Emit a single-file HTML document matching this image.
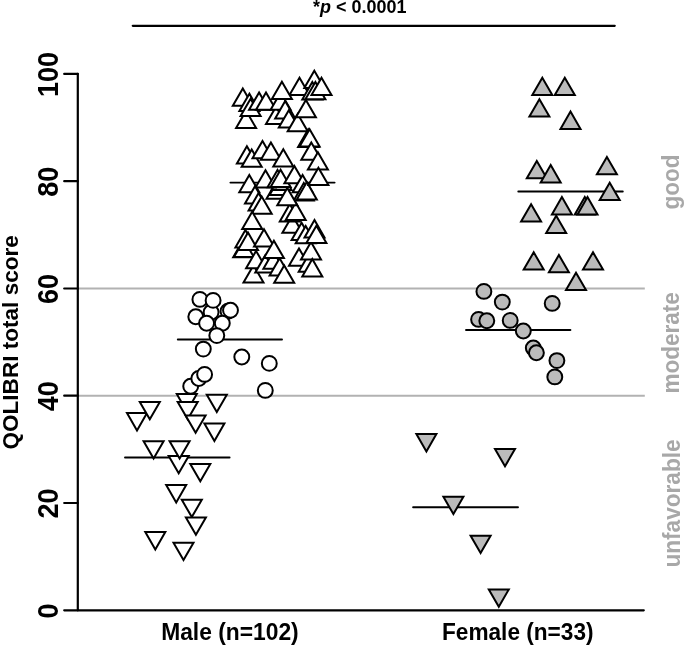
<!DOCTYPE html>
<html><head><meta charset="utf-8"><title>QOLIBRI total score</title>
<style>
html,body{margin:0;padding:0;background:#fff;}
body{width:685px;height:646px;overflow:hidden;font-family:"Liberation Sans",sans-serif;}
svg{display:block;will-change:transform;}
text{font-family:"Liberation Sans",sans-serif;font-weight:bold;}
</style></head><body>
<svg width="685" height="646" viewBox="0 0 685 646">
<rect width="685" height="646" fill="#fff"/>
<line x1="78" x2="644.8" y1="288.6" y2="288.6" stroke="#b2b2b2" stroke-width="2"/>
<line x1="78" x2="644.8" y1="395.8" y2="395.8" stroke="#b2b2b2" stroke-width="2"/>
<line x1="132.8" x2="614.7" y1="25.85" y2="25.85" stroke="#000" stroke-width="2.3" stroke-linecap="round"/>
<text x="313.1" y="13.4" font-size="17.8" textLength="93.4" lengthAdjust="spacingAndGlyphs">*<tspan font-style="italic">p</tspan> &lt; 0.0001</text>
<path d="M77.8 73.9V610.3H643.8" fill="none" stroke="#000" stroke-width="2.2" stroke-linecap="round" stroke-linejoin="round"/>
<line x1="64.2" x2="77.8" y1="610.3" y2="610.3" stroke="#000" stroke-width="2.2" stroke-linecap="round"/>
<text transform="translate(57.8 610.9) rotate(-90) scale(1 1.09)" font-size="27" text-anchor="middle">0</text>
<line x1="64.2" x2="77.8" y1="503.0" y2="503.0" stroke="#000" stroke-width="2.2" stroke-linecap="round"/>
<text transform="translate(57.8 503.6) rotate(-90) scale(1 1.09)" font-size="27" text-anchor="middle">20</text>
<line x1="64.2" x2="77.8" y1="395.7" y2="395.7" stroke="#000" stroke-width="2.2" stroke-linecap="round"/>
<text transform="translate(57.8 396.3) rotate(-90) scale(1 1.09)" font-size="27" text-anchor="middle">40</text>
<line x1="64.2" x2="77.8" y1="288.5" y2="288.5" stroke="#000" stroke-width="2.2" stroke-linecap="round"/>
<text transform="translate(57.8 289.1) rotate(-90) scale(1 1.09)" font-size="27" text-anchor="middle">60</text>
<line x1="64.2" x2="77.8" y1="181.2" y2="181.2" stroke="#000" stroke-width="2.2" stroke-linecap="round"/>
<text transform="translate(57.8 181.8) rotate(-90) scale(1 1.09)" font-size="27" text-anchor="middle">80</text>
<line x1="64.2" x2="77.8" y1="73.9" y2="73.9" stroke="#000" stroke-width="2.2" stroke-linecap="round"/>
<text transform="translate(57.8 74.5) rotate(-90) scale(1 1.09)" font-size="27" text-anchor="middle">100</text>
<text transform="translate(18.1 449.6) rotate(-90)" font-size="22.2" textLength="214.5" lengthAdjust="spacingAndGlyphs">QOLIBRI total score</text>
<text x="161.2" y="639.7" font-size="23.6" textLength="137.5" lengthAdjust="spacingAndGlyphs">Male (n=102)</text>
<text x="442" y="639.7" font-size="23.6" textLength="151.5" lengthAdjust="spacingAndGlyphs">Female (n=33)</text>
<text transform="translate(679.0 209.5) rotate(-90)" font-size="23" textLength="55" lengthAdjust="spacingAndGlyphs" fill="#a8a8a8">good</text>
<text transform="translate(679.4 393.6) rotate(-90)" font-size="23" textLength="101.5" lengthAdjust="spacingAndGlyphs" fill="#a8a8a8">moderate</text>
<text transform="translate(680.1 567.6) rotate(-90)" font-size="23" textLength="128.2" lengthAdjust="spacingAndGlyphs" fill="#a8a8a8">unfavorable</text>
<line x1="230.4" x2="334.6" y1="182.6" y2="182.6" stroke="#000" stroke-width="1.9" stroke-linecap="round"/>
<line x1="177.8" x2="282" y1="339.5" y2="339.5" stroke="#000" stroke-width="1.9" stroke-linecap="round"/>
<line x1="125" x2="229.6" y1="457.5" y2="457.5" stroke="#000" stroke-width="1.9" stroke-linecap="round"/>
<line x1="518.3" x2="622.8" y1="191.5" y2="191.5" stroke="#000" stroke-width="1.9" stroke-linecap="round"/>
<line x1="466" x2="570.4" y1="330.0" y2="330.0" stroke="#000" stroke-width="1.9" stroke-linecap="round"/>
<line x1="413.1" x2="518" y1="507.2" y2="507.2" stroke="#000" stroke-width="1.9" stroke-linecap="round"/>
<g stroke="#000" stroke-width="2.0" stroke-linejoin="miter">
<path d="M246.1 110.8L256.1 128.1L236.1 128.1Z" fill="#fff"/>
<path d="M242.8 88.4L252.8 105.7L232.8 105.7Z" fill="#fff"/>
<path d="M249.4 93.8L259.4 111.1L239.4 111.1Z" fill="#fff"/>
<path d="M250.6 98.8L260.6 116.1L240.6 116.1Z" fill="#fff"/>
<path d="M259.1 92.4L269.1 109.7L249.1 109.7Z" fill="#fff"/>
<path d="M266.0 92.4L276.0 109.7L256.0 109.7Z" fill="#fff"/>
<path d="M276.0 106.7L286.0 124.0L266.0 124.0Z" fill="#fff"/>
<path d="M280.6 92.4L290.6 109.7L270.6 109.7Z" fill="#fff"/>
<path d="M285.2 101.1L295.2 118.4L275.2 118.4Z" fill="#fff"/>
<path d="M288.8 110.3L298.8 127.6L278.8 127.6Z" fill="#fff"/>
<path d="M297.7 113.9L307.7 131.2L287.7 131.2Z" fill="#fff"/>
<path d="M299.5 77.7L309.5 95.0L289.5 95.0Z" fill="#fff"/>
<path d="M314.3 70.8L324.3 88.1L304.3 88.1Z" fill="#fff"/>
<path d="M305.9 99.9L315.9 117.2L295.9 117.2Z" fill="#fff"/>
<path d="M312.3 82.1L322.3 99.4L302.3 99.4Z" fill="#fff"/>
<path d="M315.4 82.0L325.4 99.3L305.4 99.3Z" fill="#fff"/>
<path d="M321.5 77.7L331.5 95.0L311.5 95.0Z" fill="#fff"/>
<path d="M281.9 81.7L291.9 99.0L271.9 99.0Z" fill="#fff"/>
<path d="M308.1 129.6L318.1 146.9L298.1 146.9Z" fill="#fff"/>
<path d="M308.9 129.4L318.9 146.7L298.9 146.7Z" fill="#fff"/>
<path d="M309.6 129.3L319.6 146.6L299.6 146.6Z" fill="#fff"/>
<path d="M246.9 146.3L256.9 163.6L236.9 163.6Z" fill="#fff"/>
<path d="M251.7 149.4L261.7 166.7L241.7 166.7Z" fill="#fff"/>
<path d="M262.5 140.9L272.5 158.2L252.5 158.2Z" fill="#fff"/>
<path d="M270.9 142.5L280.9 159.8L260.9 159.8Z" fill="#fff"/>
<path d="M283.3 149.3L293.3 166.6L273.3 166.6Z" fill="#fff"/>
<path d="M311.3 142.5L321.3 159.8L301.3 159.8Z" fill="#fff"/>
<path d="M317.9 152.3L327.9 169.6L307.9 169.6Z" fill="#fff"/>
<path d="M276.5 181.4L286.5 198.7L266.5 198.7Z" fill="#fff"/>
<path d="M279.6 177.8L289.6 195.1L269.6 195.1Z" fill="#fff"/>
<path d="M281.6 172.7L291.6 190.0L271.6 190.0Z" fill="#fff"/>
<path d="M249.3 174.9L259.3 192.2L239.3 192.2Z" fill="#fff"/>
<path d="M265.5 170.3L275.5 187.6L255.5 187.6Z" fill="#fff"/>
<path d="M277.5 170.0L287.5 187.3L267.5 187.3Z" fill="#fff"/>
<path d="M280.6 169.8L290.6 187.1L270.6 187.1Z" fill="#fff"/>
<path d="M294.4 165.9L304.4 183.2L284.4 183.2Z" fill="#fff"/>
<path d="M302.6 174.9L312.6 192.2L292.6 192.2Z" fill="#fff"/>
<path d="M303.8 183.1L313.8 200.4L293.8 200.4Z" fill="#fff"/>
<path d="M306.8 182.1L316.8 199.4L296.8 199.4Z" fill="#fff"/>
<path d="M318.4 167.8L328.4 185.1L308.4 185.1Z" fill="#fff"/>
<path d="M255.0 186.2L265.0 203.5L245.0 203.5Z" fill="#fff"/>
<path d="M258.6 193.1L268.6 210.4L248.6 210.4Z" fill="#fff"/>
<path d="M261.7 196.4L271.7 213.7L251.7 213.7Z" fill="#fff"/>
<path d="M292.4 215.5L302.4 232.8L282.4 232.8Z" fill="#fff"/>
<path d="M289.8 204.1L299.8 221.4L279.8 221.4Z" fill="#fff"/>
<path d="M295.7 202.6L305.7 219.9L285.7 219.9Z" fill="#fff"/>
<path d="M287.3 188.0L297.3 205.3L277.3 205.3Z" fill="#fff"/>
<path d="M253.5 265.2L263.5 282.5L243.5 282.5Z" fill="#fff"/>
<path d="M243.2 240.0L253.2 257.3L233.2 257.3Z" fill="#fff"/>
<path d="M243.9 239.8L253.9 257.1L233.9 257.1Z" fill="#fff"/>
<path d="M245.4 230.1L255.4 247.4L235.4 247.4Z" fill="#fff"/>
<path d="M248.0 232.6L258.0 249.9L238.0 249.9Z" fill="#fff"/>
<path d="M264.0 229.3L274.0 246.6L254.0 246.6Z" fill="#fff"/>
<path d="M252.2 211.8L262.2 229.1L242.2 229.1Z" fill="#fff"/>
<path d="M256.1 250.9L266.1 268.2L246.1 268.2Z" fill="#fff"/>
<path d="M265.3 255.2L275.3 272.5L255.3 272.5Z" fill="#fff"/>
<path d="M273.4 251.4L283.4 268.7L263.4 268.7Z" fill="#fff"/>
<path d="M279.6 258.3L289.6 275.6L269.6 275.6Z" fill="#fff"/>
<path d="M273.9 240.7L283.9 258.0L263.9 258.0Z" fill="#fff"/>
<path d="M284.2 265.4L294.2 282.7L274.2 282.7Z" fill="#fff"/>
<path d="M299.0 248.4L309.0 265.7L289.0 265.7Z" fill="#fff"/>
<path d="M308.7 254.4L318.7 271.7L298.7 271.7Z" fill="#fff"/>
<path d="M311.0 242.1L321.0 259.4L301.0 259.4Z" fill="#fff"/>
<path d="M301.6 222.7L311.6 240.0L291.6 240.0Z" fill="#fff"/>
<path d="M305.7 226.0L315.7 243.3L295.7 243.3Z" fill="#fff"/>
<path d="M314.5 220.1L324.5 237.4L304.5 237.4Z" fill="#fff"/>
<path d="M316.4 225.7L326.4 243.0L306.4 243.0Z" fill="#fff"/>
<path d="M312.3 259.1L322.3 276.4L302.3 276.4Z" fill="#fff"/>
<circle cx="199.9" cy="299.4" r="7.45" fill="#fff"/>
<circle cx="211.1" cy="312.3" r="7.45" fill="#fff"/>
<circle cx="213.1" cy="300.4" r="7.45" fill="#fff"/>
<circle cx="228.0" cy="311.3" r="7.45" fill="#fff"/>
<circle cx="230.5" cy="310.2" r="7.45" fill="#fff"/>
<circle cx="195.8" cy="316.8" r="7.45" fill="#fff"/>
<circle cx="206.6" cy="323.3" r="7.45" fill="#fff"/>
<circle cx="222.3" cy="323.3" r="7.45" fill="#fff"/>
<circle cx="216.8" cy="335.6" r="7.45" fill="#fff"/>
<circle cx="203.3" cy="349.1" r="7.45" fill="#fff"/>
<circle cx="241.8" cy="357.0" r="7.45" fill="#fff"/>
<circle cx="269.3" cy="363.4" r="7.45" fill="#fff"/>
<circle cx="190.7" cy="386.3" r="7.45" fill="#fff"/>
<circle cx="198.8" cy="378.5" r="7.45" fill="#fff"/>
<circle cx="204.6" cy="374.4" r="7.45" fill="#fff"/>
<circle cx="265.3" cy="390.4" r="7.45" fill="#fff"/>
<path d="M176.8 394.1L196.8 394.1L186.8 411.4Z" fill="#fff"/>
<path d="M177.7 401.9L197.7 401.9L187.7 419.2Z" fill="#fff"/>
<path d="M127.0 413.1L147.0 413.1L137.0 430.4Z" fill="#fff"/>
<path d="M139.8 401.9L159.8 401.9L149.8 419.2Z" fill="#fff"/>
<path d="M185.6 415.4L205.6 415.4L195.6 432.7Z" fill="#fff"/>
<path d="M206.8 394.8L226.8 394.8L216.8 412.1Z" fill="#fff"/>
<path d="M204.4 423.6L224.4 423.6L214.4 440.9Z" fill="#fff"/>
<path d="M143.6 441.3L163.6 441.3L153.6 458.6Z" fill="#fff"/>
<path d="M168.7 455.9L188.7 455.9L178.7 473.2Z" fill="#fff"/>
<path d="M169.6 441.3L189.6 441.3L179.6 458.6Z" fill="#fff"/>
<path d="M190.3 463.9L210.3 463.9L200.3 481.2Z" fill="#fff"/>
<path d="M166.2 485.1L186.2 485.1L176.2 502.4Z" fill="#fff"/>
<path d="M181.8 499.8L201.8 499.8L191.8 517.1Z" fill="#fff"/>
<path d="M185.9 517.5L205.9 517.5L195.9 534.8Z" fill="#fff"/>
<path d="M145.3 532.1L165.3 532.1L155.3 549.4Z" fill="#fff"/>
<path d="M173.5 542.7L193.5 542.7L183.5 560.0Z" fill="#fff"/>
<path d="M542.3 77.8L552.3 95.1L532.3 95.1Z" fill="#bbbbbb"/>
<path d="M564.8 77.8L574.8 95.1L554.8 95.1Z" fill="#bbbbbb"/>
<path d="M539.4 99.3L549.4 116.6L529.4 116.6Z" fill="#bbbbbb"/>
<path d="M570.5 111.6L580.5 128.9L560.5 128.9Z" fill="#bbbbbb"/>
<path d="M536.8 161.0L546.8 178.3L526.8 178.3Z" fill="#bbbbbb"/>
<path d="M550.7 165.1L560.7 182.4L540.7 182.4Z" fill="#bbbbbb"/>
<path d="M606.9 156.9L616.9 174.2L596.9 174.2Z" fill="#bbbbbb"/>
<path d="M609.7 182.8L619.7 200.1L599.7 200.1Z" fill="#bbbbbb"/>
<path d="M531.1 204.3L541.1 221.6L521.1 221.6Z" fill="#bbbbbb"/>
<path d="M561.9 197.1L571.9 214.4L551.9 214.4Z" fill="#bbbbbb"/>
<path d="M584.8 197.1L594.8 214.4L574.8 214.4Z" fill="#bbbbbb"/>
<path d="M587.5 197.1L597.5 214.4L577.5 214.4Z" fill="#bbbbbb"/>
<path d="M556.2 215.8L566.2 233.1L546.2 233.1Z" fill="#bbbbbb"/>
<path d="M533.7 252.3L543.7 269.6L523.7 269.6Z" fill="#bbbbbb"/>
<path d="M558.9 255.0L568.9 272.3L548.9 272.3Z" fill="#bbbbbb"/>
<path d="M593.0 252.3L603.0 269.6L583.0 269.6Z" fill="#bbbbbb"/>
<path d="M576.0 272.8L586.0 290.1L566.0 290.1Z" fill="#bbbbbb"/>
<circle cx="483.9" cy="291.4" r="7.45" fill="#bbbbbb"/>
<circle cx="502.3" cy="302.1" r="7.45" fill="#bbbbbb"/>
<circle cx="552.2" cy="303.4" r="7.45" fill="#bbbbbb"/>
<circle cx="478.6" cy="319.4" r="7.45" fill="#bbbbbb"/>
<circle cx="486.8" cy="320.7" r="7.45" fill="#bbbbbb"/>
<circle cx="510.2" cy="320.4" r="7.45" fill="#bbbbbb"/>
<circle cx="523.3" cy="331.0" r="7.45" fill="#bbbbbb"/>
<circle cx="533.3" cy="348.0" r="7.45" fill="#bbbbbb"/>
<circle cx="536.4" cy="352.8" r="7.45" fill="#bbbbbb"/>
<circle cx="556.9" cy="360.6" r="7.45" fill="#bbbbbb"/>
<circle cx="554.8" cy="376.9" r="7.45" fill="#bbbbbb"/>
<path d="M416.4 434.1L436.4 434.1L426.4 451.4Z" fill="#bbbbbb"/>
<path d="M495.0 449.0L515.0 449.0L505.0 466.3Z" fill="#bbbbbb"/>
<path d="M443.4 496.8L463.4 496.8L453.4 514.1Z" fill="#bbbbbb"/>
<path d="M470.6 535.8L490.6 535.8L480.6 553.1Z" fill="#bbbbbb"/>
<path d="M488.8 589.4L508.8 589.4L498.8 606.7Z" fill="#bbbbbb"/>
</g>
</svg></body></html>
